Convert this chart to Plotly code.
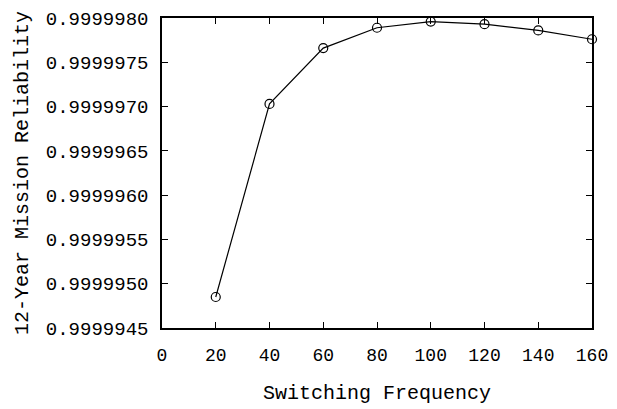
import plotly.graph_objects as go

switching_frequency = [20, 40, 60, 80, 100, 120, 140, 160]
reliability = [0.99999485, 0.99999703, 0.99999766, 0.99999789,
               0.99999796, 0.99999793, 0.99999786, 0.99999776]

x_tick_vals = [0, 20, 40, 60, 80, 100, 120, 140, 160]
y_tick_vals = [0.9999945, 0.9999950, 0.9999955, 0.9999960,
               0.9999965, 0.9999970, 0.9999975, 0.9999980]
y_tick_text = ["0.9999945", "0.9999950", "0.9999955", "0.9999960",
               "0.9999965", "0.9999970", "0.9999975", "0.9999980"]

FONT = "Liberation Mono, Courier New, monospace"

fig = go.Figure()
fig.add_trace(go.Scatter(
    x=switching_frequency, y=reliability, mode="lines+markers",
    line=dict(color="black", width=1.2),
    marker=dict(symbol="circle-open", size=9, color="black", line=dict(width=1.2)),
    showlegend=False, cliponaxis=False,
))

axis_common = dict(
    showline=True, linecolor="black", linewidth=1.5, mirror="ticks",
    ticks="inside", ticklen=6, tickwidth=1.2, tickcolor="black",
    showgrid=False, zeroline=False,
)

fig.update_layout(
    width=617, height=409,
    margin=dict(l=162, r=21, t=9, b=79),
    paper_bgcolor="white", plot_bgcolor="white",
    font=dict(family=FONT, color="black"),
    xaxis=dict(range=[0, 160], tickvals=x_tick_vals,
               tickfont=dict(family=FONT, size=18, color="black"),
               title=dict(text="Switching Frequency", font=dict(family=FONT, size=20), standoff=20),
               ticklabelstandoff=10,
               **axis_common),
    yaxis=dict(range=[0.9999945, 0.9999980], tickvals=y_tick_vals, ticktext=y_tick_text,
               tickfont=dict(family=FONT, size=19, color="black"),
               title=dict(text="12-Year Mission Reliability", font=dict(family=FONT, size=20), standoff=12),
               ticklabelstandoff=8,
               **axis_common),
)

fig.write_html("out.html")
